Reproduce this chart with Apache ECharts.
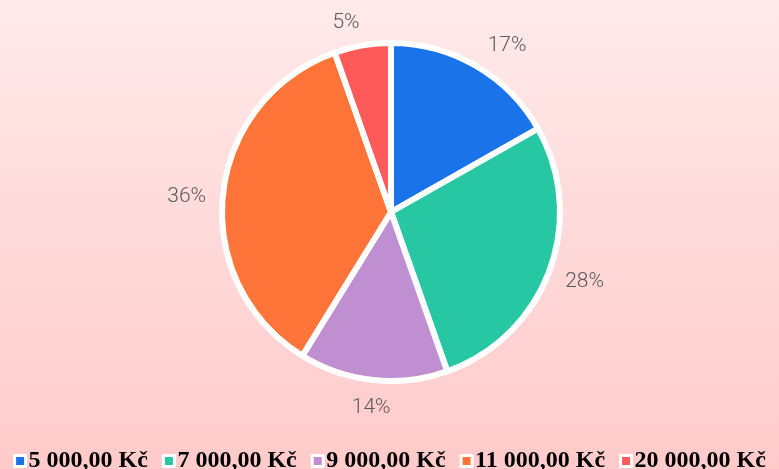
<!DOCTYPE html>
<html><head><meta charset="utf-8">
<script src="https://cdn.jsdelivr.net/npm/echarts@6/dist/echarts.min.js"></script>
<style>html,body{margin:0;padding:0;}#c{width:779px;height:469px;}</style>
</head><body><div id="c"></div>
<script>
const categories = ['5 000,00 Kč','7 000,00 Kč','9 000,00 Kč','11 000,00 Kč','20 000,00 Kč'];
const values = [16.8, 27.8, 14.2, 35.8, 5.4];
const colors = ['#1a73e8','#26c7a2','#bf8fd1','#ff7539','#ff5a5a'];
const chart = echarts.init(document.getElementById('c'));
const GAP = 18;
chart.setOption({
  backgroundColor: {type:'linear',x:0,y:0,x2:0,y2:1,colorStops:[{offset:0,color:'#ffeaea'},{offset:1,color:'#ffcaca'}]},
  color: colors,
  legend: {
    top: 444, left: 'center', itemWidth: 11, itemHeight: 11, itemGap: 14,
    icon: 'rect',
    itemStyle: {borderColor:'#fff', borderWidth: 3},
    textStyle: {fontFamily:'Liberation Serif', fontWeight:'bold', fontSize: 24, color:'#000', padding:[0,0,0,-2]}
  },
  series: [{
    type: 'pie', center: [391, 212], radius: 169, startAngle: 90, clockwise: true,
    data: categories.map((c,i)=>({name:c, value: values[i]})),
    itemStyle: {borderColor:'#fff', borderWidth: 6},
    label: {show:true, position:'outside', formatter: p=>Math.round(p.percent)+'%', fontFamily:'Roboto', fontWeight: 300, fontSize: 21, color:'#595959'},
    labelLine: {show:false, length: GAP, length2: 0},
    emphasis: {disabled: true},
    labelLayout: function (p) {
      const data = chart.getModel().getSeriesByIndex(0).getData();
      const lay = data.getItemLayout(p.dataIndex);
      if (!lay) return {};
      const mid = (lay.startAngle + lay.endAngle) / 2;
      const ux = Math.cos(mid), uy = Math.sin(mid);
      const w = p.labelRect.width, h = p.labelRect.height;
      const d = lay.r + GAP - 1;
      const hx = Math.abs(ux) < 0.13 ? 0 : Math.sign(ux);
      const vy = Math.abs(uy) < 0.5 ? 0 : Math.sign(uy);
      const shift = vy > 0 ? 0 : 5;
      return {x: lay.cx + ux*d + hx*w/2 + (hx > 0 && vy < 0 ? 3 : 0), y: lay.cy + uy*d + vy*h/2 + shift, align:'center', verticalAlign:'middle'};
    }
  }]
});
</script></body></html>
